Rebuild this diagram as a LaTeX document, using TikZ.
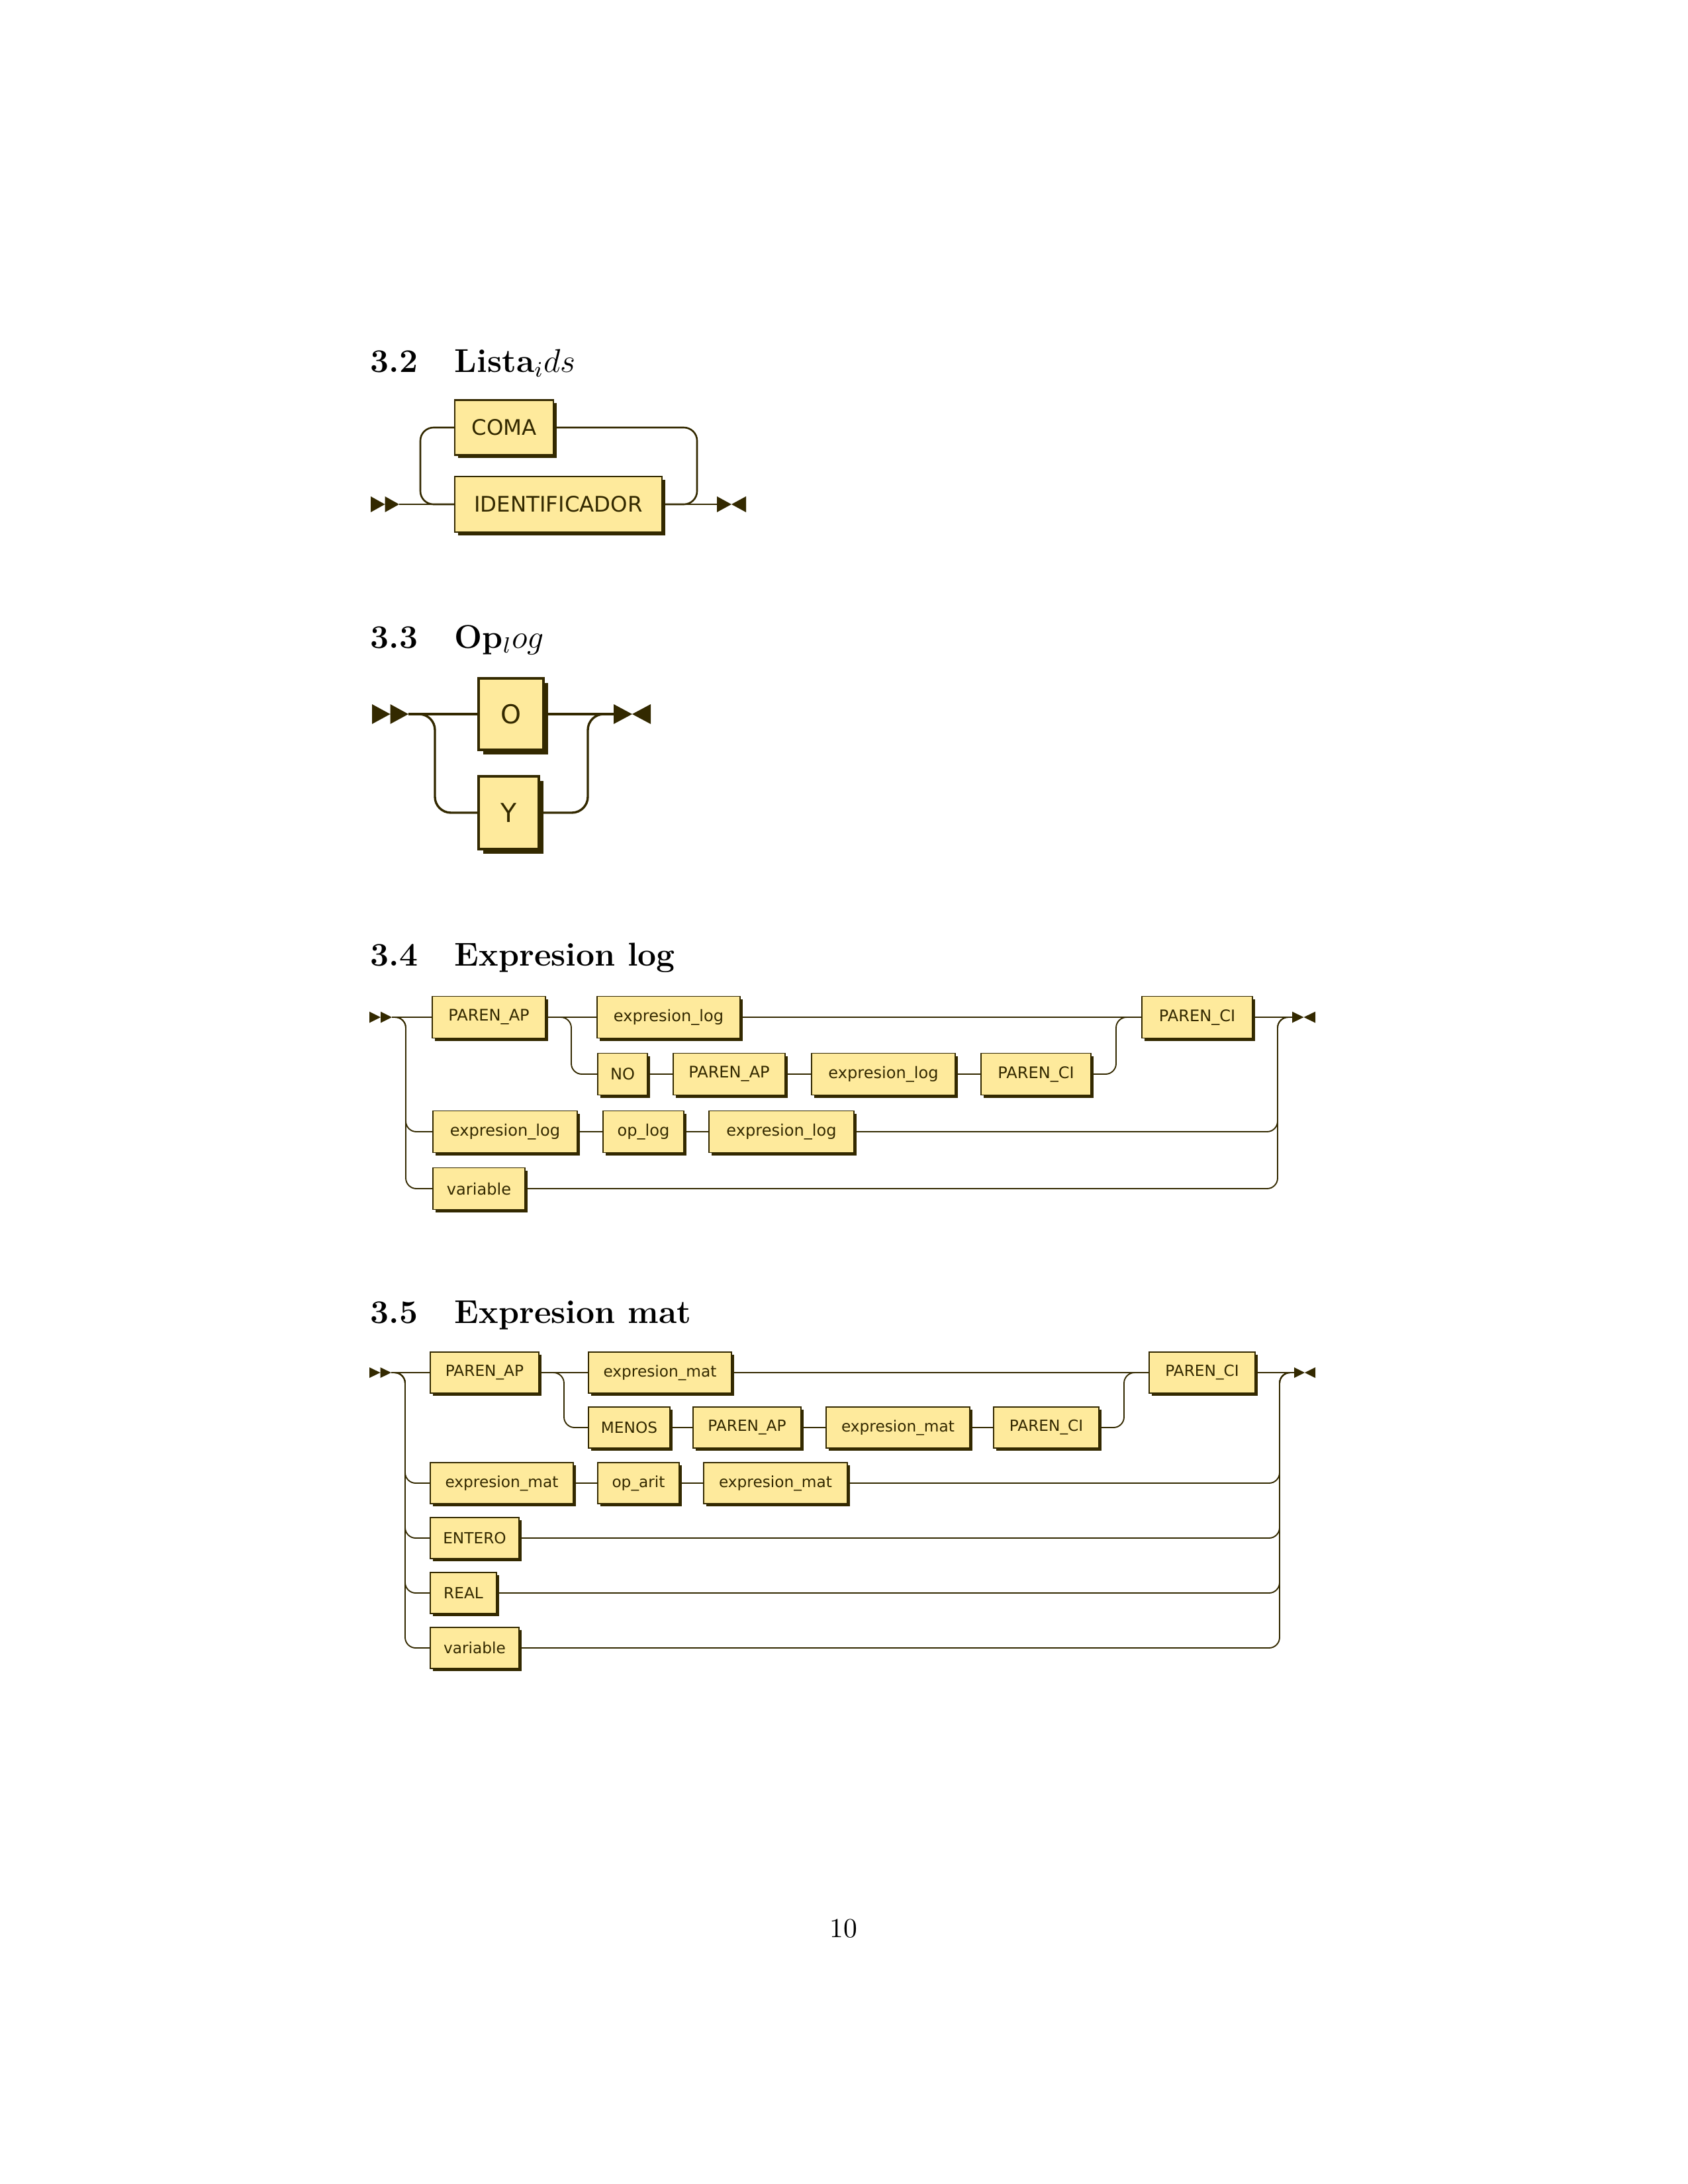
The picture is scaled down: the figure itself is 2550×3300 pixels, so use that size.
\documentclass[tikz,border=0pt]{standalone}
\usepackage{fontspec}
\newfontfamily\rrfont{DejaVu Sans}
\usetikzlibrary{shadows}
\def\px{0.2409pt}
\definecolor{rrline}{HTML}{332900}
\definecolor{rrfill}{HTML}{FEEA9C}
\tikzset{
  rrbox/.style={draw=rrline, fill=rrfill, inner sep=0pt, outer sep=0pt, text=rrline},
  wh/.style 2 args={minimum width=#1*\px, minimum height=#2*\px},
  rrmark/.style={inner sep=0pt, outer sep=0pt},
  sectnum/.style={anchor=base west, inner sep=0pt, font=\large\bfseries},
  % per-diagram looks
  boxA/.style={rrbox, line width=0.63pt, font=\rrfont\fontsize{7.8}{9}\selectfont,
    drop shadow={shadow xshift=1.2pt, shadow yshift=-1.2pt, fill=rrline, opacity=1}},
  railA/.style={draw=rrline, line width=0.63pt, rounded corners=4.8pt},
  boxB/.style={rrbox, line width=0.9pt, font=\rrfont\fontsize{9.5}{11}\selectfont,
    drop shadow={shadow xshift=1.65pt, shadow yshift=-1.65pt, fill=rrline, opacity=1}},
  railB/.style={draw=rrline, line width=0.82pt, rounded corners=5.8pt},
  boxC/.style={rrbox, line width=0.42pt, font=\rrfont\fontsize{5.8}{7}\selectfont,
    drop shadow={shadow xshift=0.96pt, shadow yshift=-0.96pt, fill=rrline, opacity=1}},
  boxD/.style={rrbox, line width=0.42pt, font=\rrfont\fontsize{5.6}{7}\selectfont,
    drop shadow={shadow xshift=0.96pt, shadow yshift=-0.96pt, fill=rrline, opacity=1}},
  railC/.style={draw=rrline, line width=0.45pt, rounded corners=3.85pt},
}
% start marker: two right-pointing triangles; stop marker: a bow tie
\newcommand\railgo[1]{\fill[rrline] (#1.north west) -- (#1.south west) -- (#1.center) -- cycle
  (#1.north) -- (#1.south) -- (#1.east) -- cycle;}
\newcommand\railstop[1]{\fill[rrline] (#1.north west) -- (#1.south west) -- (#1.center) -- cycle
  (#1.north east) -- (#1.south east) -- (#1.center) -- cycle;}
\begin{document}
\begin{tikzpicture}[x=\px, y=-\px]
\useasboundingbox (0,0) rectangle (2550,3300);

%% ---------------- 3.2 Lista_ids ----------------
\node[sectnum] (t2n) at (559,562) {3.2};
\node[sectnum] (t2t) at (686,562) {Lista$_ids$};
\node[rrmark, wh={43}{24}] (st2) at (581.5,762) {};
\node[rrmark, wh={44}{24}] (en2) at (1105,762) {};
\coordinate (l2) at (635,700);
\coordinate (r2) at (1053,700);
\node[boxA, wh={313}{84}] (c2id) at (843.5,762) {IDENTIFICADOR};
\node[boxA, wh={149}{83}] (c2co) at (761.5,646) {COMA};
\railgo{st2}
\railstop{en2}
\draw[railA] (st2.east) -- (c2id.west);
\draw[railA] (c2id.east) -- (en2.west);
\draw[railA] (c2id.east) -| (r2 |- c2co.east) -- (c2co.east);
\draw[railA] (c2co.west) -| (l2 |- c2id.west) -- (c2id.west);

%% ---------------- 3.3 Op_log ----------------
\node[sectnum] (t3n) at (559,979) {3.3};
\node[sectnum] (t3t) at (686,979) {Op$_log$};
\node[rrmark, wh={55}{30}] (st3) at (589.5,1079) {};
\node[rrmark, wh={56}{30}] (en3) at (955,1079) {};
\coordinate (l3) at (657,1150);
\coordinate (r3) at (888,1150);
\node[boxB, wh={98}{108}] (c3o) at (772,1079) {O};
\node[boxB, wh={91}{110}] (c3y) at (768.5,1228) {Y};
\railgo{st3}
\railstop{en3}
\draw[railB] (st3.east) -- (c3o.west);
\draw[railB] (c3o.east) -- (en3.west);
\draw[railB] (st3.east) -| (l3 |- c3y.west) -- (c3y.west);
\draw[railB] (c3y.east) -| (r3 |- en3.west) -- (en3.west);

%% ---------------- 3.4 Expresion log ----------------
\node[sectnum] (t4n) at (559,1459) {3.4};
\node[sectnum] (t4t) at (686,1459) {Expresion log};
\node[rrmark, wh={34}{17}] (st4) at (575,1537) {};
\node[rrmark, wh={35}{17}] (en4) at (1969.5,1537) {};
\coordinate (l4) at (613,1650);
\coordinate (r4) at (1930,1650);
\coordinate (bl4) at (863,1580);
\coordinate (br4) at (1686,1580);
% first row
\node[boxC, wh={171}{63}] (a4pa) at (738.5,1537) {PAREN\_AP};
\node[boxC, wh={216}{63}] (a4el) at (1010,1537) {expresion\_log};
\node[boxC, wh={167}{63}] (a4pc) at (1808.5,1537) {PAREN\_CI};
% second row
\node[boxC, wh={75}{63}]  (b4no) at (940.5,1623) {NO};
\node[boxC, wh={169}{63}] (b4pa) at (1101.5,1623) {PAREN\_AP};
\node[boxC, wh={217}{63}] (b4el) at (1334.5,1623) {expresion\_log};
\node[boxC, wh={166}{63}] (b4pc) at (1565,1623) {PAREN\_CI};
% third row
\node[boxC, wh={218}{63}] (c4el) at (763,1710) {expresion\_log};
\node[boxC, wh={122}{63}] (c4op) at (972,1710) {op\_log};
\node[boxC, wh={219}{63}] (c4er) at (1180.5,1710) {expresion\_log};
% fourth row
\node[boxC, wh={139}{63}] (d4va) at (723.5,1796) {variable};
\railgo{st4}
\railstop{en4}
\draw[railC] (st4.east) -- (a4pa.west);
\draw[railC] (a4pa.east) -- (a4el.west);
\draw[railC] (a4el.east) -- (a4pc.west);
\draw[railC] (a4pc.east) -- (en4.west);
\draw[railC] (a4pa.east) -| (bl4 |- b4no.west) -- (b4no.west);
\draw[railC] (b4no.east) -- (b4pa.west);
\draw[railC] (b4pa.east) -- (b4el.west);
\draw[railC] (b4el.east) -- (b4pc.west);
\draw[railC] (b4pc.east) -| (br4 |- a4pc.west) -- (a4pc.west);
\draw[railC] (st4.east) -| (l4 |- c4el.west) -- (c4el.west);
\draw[railC] (st4.east) -| (l4 |- d4va.west) -- (d4va.west);
\draw[railC] (c4el.east) -- (c4op.west);
\draw[railC] (c4op.east) -- (c4er.west);
\draw[railC] (c4er.east) -| (r4 |- en4.west) -- (en4.west);
\draw[railC] (d4va.east) -| (r4 |- en4.west) -- (en4.west);

%% ---------------- 3.5 Expresion mat ----------------
\node[sectnum] (t5n) at (559,1999) {3.5};
\node[sectnum] (t5t) at (686,1999) {Expresion mat};
\node[rrmark, wh={33}{16}] (st5) at (574.5,2074) {};
\node[rrmark, wh={32}{16}] (en5) at (1971,2074) {};
\coordinate (l5) at (612,2200);
\coordinate (r5) at (1933,2200);
\coordinate (bl5) at (852,2110);
\coordinate (br5) at (1698,2110);
% first row
\node[boxD, wh={164}{62}] (a5pa) at (732,2074) {PAREN\_AP};
\node[boxD, wh={216}{62}] (a5em) at (997,2074) {expresion\_mat};
\node[boxD, wh={160}{62}] (a5pc) at (1816,2074) {PAREN\_CI};
% second row
\node[boxD, wh={123}{62}] (b5me) at (950.5,2157) {MENOS};
\node[boxD, wh={163}{62}] (b5pa) at (1128.5,2157) {PAREN\_AP};
\node[boxD, wh={217}{62}] (b5em) at (1356.5,2157) {expresion\_mat};
\node[boxD, wh={159}{62}] (b5pc) at (1580.5,2157) {PAREN\_CI};
% third row
\node[boxD, wh={216}{62}] (c5em) at (758,2241) {expresion\_mat};
\node[boxD, wh={123}{62}] (c5op) at (964.5,2241) {op\_arit};
\node[boxD, wh={217}{62}] (c5er) at (1171.5,2241) {expresion\_mat};
% single-box rows
\node[boxD, wh={134}{62}] (d5en) at (717,2324) {ENTERO};
\node[boxD, wh={100}{62}] (e5re) at (700,2407) {REAL};
\node[boxD, wh={134}{62}] (f5va) at (717,2490) {variable};
\railgo{st5}
\railstop{en5}
\draw[railC] (st5.east) -- (a5pa.west);
\draw[railC] (a5pa.east) -- (a5em.west);
\draw[railC] (a5em.east) -- (a5pc.west);
\draw[railC] (a5pc.east) -- (en5.west);
\draw[railC] (a5pa.east) -| (bl5 |- b5me.west) -- (b5me.west);
\draw[railC] (b5me.east) -- (b5pa.west);
\draw[railC] (b5pa.east) -- (b5em.west);
\draw[railC] (b5em.east) -- (b5pc.west);
\draw[railC] (b5pc.east) -| (br5 |- a5pc.west) -- (a5pc.west);
\draw[railC] (st5.east) -| (l5 |- c5em.west) -- (c5em.west);
\draw[railC] (st5.east) -| (l5 |- d5en.west) -- (d5en.west);
\draw[railC] (st5.east) -| (l5 |- e5re.west) -- (e5re.west);
\draw[railC] (st5.east) -| (l5 |- f5va.west) -- (f5va.west);
\draw[railC] (c5em.east) -- (c5op.west);
\draw[railC] (c5op.east) -- (c5er.west);
\draw[railC] (c5er.east) -| (r5 |- en5.west) -- (en5.west);
\draw[railC] (d5en.east) -| (r5 |- en5.west) -- (en5.west);
\draw[railC] (e5re.east) -| (r5 |- en5.west) -- (en5.west);
\draw[railC] (f5va.east) -| (r5 |- en5.west) -- (en5.west);

%% page number
\node[anchor=base, inner sep=0pt, font=\normalsize] (pg) at (1274,2927) {10};
\end{tikzpicture}
\end{document}
